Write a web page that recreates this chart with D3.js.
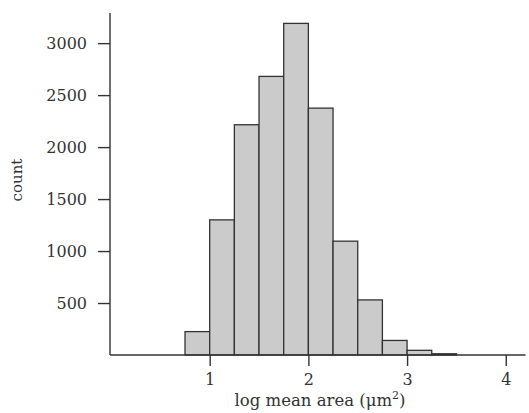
<!DOCTYPE html>
<html>
<head>
<meta charset="utf-8">
<script src="https://cdn.jsdelivr.net/npm/d3@7"></script>
<style>
  body { margin: 0; background: #fff; }
  svg text { font-family: "DejaVu Serif", "Liberation Serif", serif; fill: #333; }
</style>
</head>
<body>
<svg id="chart" width="529" height="413"></svg>
<script>
// histogram bins (log mean area), width 0.25
const binStarts = [0.75, 1.0, 1.25, 1.5, 1.75, 2.0, 2.25, 2.5, 2.75, 3.0, 3.25];
const binWidth = 0.25;
const counts = [225, 1300, 2215, 2680, 3190, 2375, 1095, 530, 140, 45, 12];
const xTicks = [1, 2, 3, 4];
const yTicks = [500, 1000, 1500, 2000, 2500, 3000];

const svg = d3.select('#chart');
const x = d3.scaleLinear().domain([0, 4.2]).range([111, 525.5]);
const y = d3.scaleLinear().domain([0, 3290]).range([355, 13]);
const ink = '#333';

const bins = binStarts.map((b, i) => ({ x0: b, x1: b + binWidth, n: counts[i] }));

svg.append('g').selectAll('rect').data(bins).enter().append('rect')
  .attr('x', d => x(d.x0))
  .attr('y', d => y(d.n))
  .attr('width', d => x(d.x1) - x(d.x0))
  .attr('height', d => y(0) - y(d.n))
  .attr('fill', '#cbcbcb')
  .attr('stroke', ink).attr('stroke-width', 1.3);

// y axis
const yAxis = svg.append('g').attr('transform', 'translate(110,0)')
  .call(d3.axisLeft(y).tickValues(yTicks).tickSize(12).tickSizeOuter(0).tickPadding(11).tickFormat(d3.format('d')));
yAxis.select('.domain').attr('d', `M0,${y.range()[1]}V${y(0)}`);
yAxis.selectAll('line, path').attr('stroke', ink).attr('stroke-width', 1.4);
yAxis.selectAll('text').attr('font-size', 16).attr('font-family', '"DejaVu Serif", serif').attr('fill', ink);

// x axis
const xAxis = svg.append('g').attr('transform', `translate(0,${y(0)})`)
  .call(d3.axisBottom(x).tickValues(xTicks).tickSize(11).tickSizeOuter(0).tickPadding(8).tickFormat(d3.format('d')));
xAxis.select('.domain').attr('d', `M110,0H${x.range()[1]}`);
xAxis.selectAll('line, path').attr('stroke', ink).attr('stroke-width', 1.4);
xAxis.selectAll('text').attr('font-size', 16).attr('font-family', '"DejaVu Serif", serif').attr('fill', ink);

// axis titles
const xt = svg.append('text').attr('x', 320).attr('y', 406).attr('text-anchor', 'middle')
  .attr('font-size', 16.5);
xt.append('tspan').text('log mean area (μm');
xt.append('tspan').text('2').attr('font-size', 11).attr('dy', -7);
xt.append('tspan').text(')').attr('dy', 7);

svg.append('text').attr('transform', 'translate(22,180) rotate(-90)').attr('text-anchor', 'middle')
  .attr('font-size', 15).text('count');
</script>
</body>
</html>
